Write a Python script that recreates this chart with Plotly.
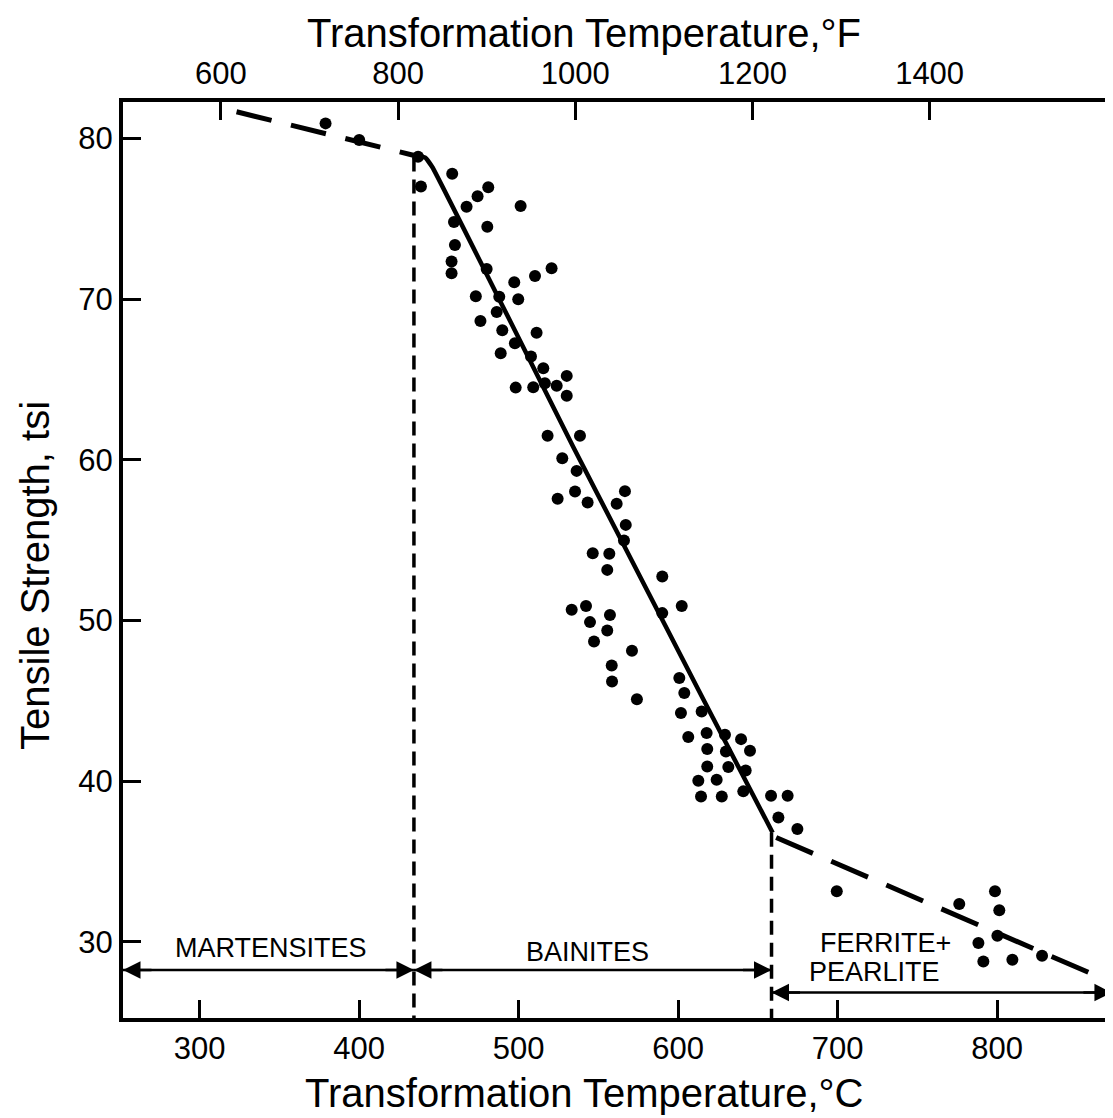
import plotly.graph_objects as go

# ---- data ----
PTS_C = [379.0, 400.1, 437.0, 438.8, 458.4, 467.4, 474.3, 481.0, 480.4, 501.3,
         459.5, 460.1, 458.0, 458.0, 480.0, 520.7, 510.3, 497.3, 499.8, 473.2,
         487.9, 486.3, 476.1, 489.8, 511.3, 497.7, 488.8, 507.8, 515.5, 530.2,
         523.9, 530.2, 498.2, 509.2, 516.5, 518.2, 538.5, 527.4, 536.4, 535.4,
         524.5, 543.3, 566.7, 561.5, 567.2, 566.1, 546.5, 556.9, 555.6, 590.1,
         602.3, 590.1, 533.3, 542.3, 557.3, 544.8, 555.6, 547.3, 571.1, 558.4,
         558.6, 574.2, 600.8, 603.9, 601.8, 614.8, 606.4, 617.9, 629.4, 639.5,
         645.1, 618.3, 630.0, 618.3, 631.5, 642.4, 612.7, 624.2, 614.4, 627.4,
         640.9, 658.3, 668.7, 662.9, 674.8, 699.5, 776.3, 798.7, 801.4, 800.2,
         788.3, 791.4, 809.6, 828.2]
PTS_TSI = [80.93, 79.9, 78.85, 77.0, 77.8, 75.75, 76.4, 76.95, 74.5, 75.79,
           74.8, 73.36, 72.33, 71.6, 71.87, 71.92, 71.44, 71.04, 69.99, 70.17,
           70.15, 69.2, 68.63, 68.06, 67.91, 67.25, 66.63, 66.42, 65.70, 65.22,
           64.61, 63.99, 64.49, 64.51, 64.76, 61.50, 61.49, 60.10, 59.31, 58.02,
           57.57, 57.34, 58.05, 57.26, 55.95, 54.98, 54.19, 54.15, 53.15, 52.74,
           50.91, 50.46, 50.67, 50.91, 50.35, 49.90, 49.38, 48.69, 48.12, 47.20,
           46.21, 45.1, 46.42, 45.49, 44.24, 44.34, 42.75, 43.0, 42.89, 42.62,
           41.90, 42.0, 41.85, 40.92, 40.88, 40.67, 40.03, 40.09, 39.05, 39.05,
           39.37, 39.10, 39.10, 37.75, 37.03, 33.15, 32.36, 33.15, 31.97, 30.39,
           29.94, 28.79, 28.90, 29.15]

# fitted curve segments
MART_X = [323.2, 434.0]
MART_Y = [81.65, 78.95]
BAIN_X = [434.0, 441.5, 446.0, 488.3, 534.3, 615.8, 659.3]
BAIN_Y = [78.95, 78.8, 78.2, 69.9, 60.8, 45.1, 36.8]
FP_X = [661.5, 858.2]
FP_Y = [36.5, 28.07]

# phase boundaries (degC) and region arrows
BOUND_MS = 434.4
BOUND_FP = 658.6
BOUND_MS_TOP = 78.8
BOUND_FP_TOP = 36.8
ARROW_Y_UPPER = 28.26
ARROW_Y_LOWER = 26.85
X_MIN_C, X_MAX_C = 252.0, 877.7
Y_MIN, Y_MAX = 25.27, 82.26

C_TICKS = [300, 400, 500, 600, 700, 800]
F_TICKS = [600, 800, 1000, 1200, 1400]
F_RANGE = [489.6, 1616.0]
TSI_TICKS = [30, 40, 50, 60, 70, 80]

LABELS = [("MARTENSITES", 344.7, 29.65), ("BAINITES", 543.2, 29.40),
          ("FERRITE+", 729.8, 29.93), ("PEARLITE", 723.0, 28.12)]

FONT = "Liberation Sans, Arial, sans-serif"

fig = go.Figure()

# boundaries
for bx, btop in ((BOUND_MS, BOUND_MS_TOP), (BOUND_FP, BOUND_FP_TOP)):
    fig.add_trace(go.Scatter(x=[bx, bx], y=[btop, Y_MIN], mode="lines",
                             line=dict(color="black", width=3.5, dash="14px,8px"),
                             hoverinfo="skip", showlegend=False))

# curve
fig.add_trace(go.Scatter(x=MART_X, y=MART_Y, mode="lines",
                         line=dict(color="black", width=5, dash="36px,20px"),
                         hoverinfo="skip", showlegend=False))
fig.add_trace(go.Scatter(x=BAIN_X, y=BAIN_Y, mode="lines",
                         line=dict(color="black", width=4.5, shape="spline", smoothing=0.3),
                         hoverinfo="skip", showlegend=False))
fig.add_trace(go.Scatter(x=FP_X, y=FP_Y, mode="lines",
                         line=dict(color="black", width=5, dash="40px,20px"),
                         hoverinfo="skip", showlegend=False))

# data points
fig.add_trace(go.Scatter(x=PTS_C, y=PTS_TSI, mode="markers",
                         marker=dict(color="black", size=12),
                         showlegend=False))

# invisible trace to activate the top (F) axis
fig.add_trace(go.Scatter(x=F_RANGE, y=[Y_MIN, Y_MIN], xaxis="x2", mode="markers",
                         marker=dict(opacity=0), hoverinfo="skip", showlegend=False))

# range arrows: shaft as a line, heads as short annotations
def double_arrow(x0, x1, y):
    fig.add_trace(go.Scatter(x=[x0, x1], y=[y, y], mode="lines",
                             line=dict(color="black", width=2.5),
                             hoverinfo="skip", showlegend=False))
    for end, off in ((x0, 30), (x1, -30)):
        fig.add_annotation(x=end, y=y, ax=off, ay=0, xref="x", yref="y",
                           text="", showarrow=True, arrowhead=2, arrowsize=1.4,
                           arrowwidth=2.5, arrowcolor="black", standoff=0)

double_arrow(X_MIN_C, BOUND_MS, ARROW_Y_UPPER)
double_arrow(BOUND_MS, BOUND_FP, ARROW_Y_UPPER)
double_arrow(BOUND_FP, 872.0, ARROW_Y_LOWER)

for txt, x, y in LABELS:
    fig.add_annotation(x=x, y=y, xref="x", yref="y", text=txt, showarrow=False,
                       font=dict(family=FONT, size=27, color="black"))

# axis titles
TITLE_FONT = dict(family=FONT, size=40, color="black")
fig.add_annotation(x=0.4619, y=-0.0819, xref="paper", yref="paper",
                   text="Transformation Temperature,°C", showarrow=False,
                   xanchor="center", yanchor="middle", font=TITLE_FONT)
fig.add_annotation(x=0.4619, y=1.0753, xref="paper", yref="paper",
                   text="Transformation Temperature,°F", showarrow=False,
                   xanchor="center", yanchor="middle", font=TITLE_FONT)
fig.add_annotation(x=-0.0882, y=0.4836, xref="paper", yref="paper",
                   text="Tensile Strength, tsi", showarrow=False, textangle=-90,
                   xanchor="center", yanchor="middle", font=TITLE_FONT)

axis_common = dict(showgrid=False, zeroline=False, showline=True, linecolor="black",
                   linewidth=4, ticks="inside", ticklen=18, tickwidth=3,
                   tickcolor="black", automargin=False,
                   tickfont=dict(family=FONT, size=31, color="black"))

fig.update_layout(
    width=1113, height=1118,
    margin=dict(l=115, r=0, t=94, b=108),
    paper_bgcolor="white", plot_bgcolor="white",
    font=dict(family=FONT, color="black"),
    xaxis=dict(range=[X_MIN_C, X_MAX_C], tickvals=C_TICKS, ticklabelstandoff=0,
               **axis_common),
    xaxis2=dict(range=F_RANGE, tickvals=F_TICKS, overlaying="x", side="top",
                ticklabelstandoff=2, **axis_common),
    yaxis=dict(range=[Y_MIN, Y_MAX], tickvals=TSI_TICKS, ticklabelstandoff=0,
               **axis_common),
)

fig.write_html("out.html")
